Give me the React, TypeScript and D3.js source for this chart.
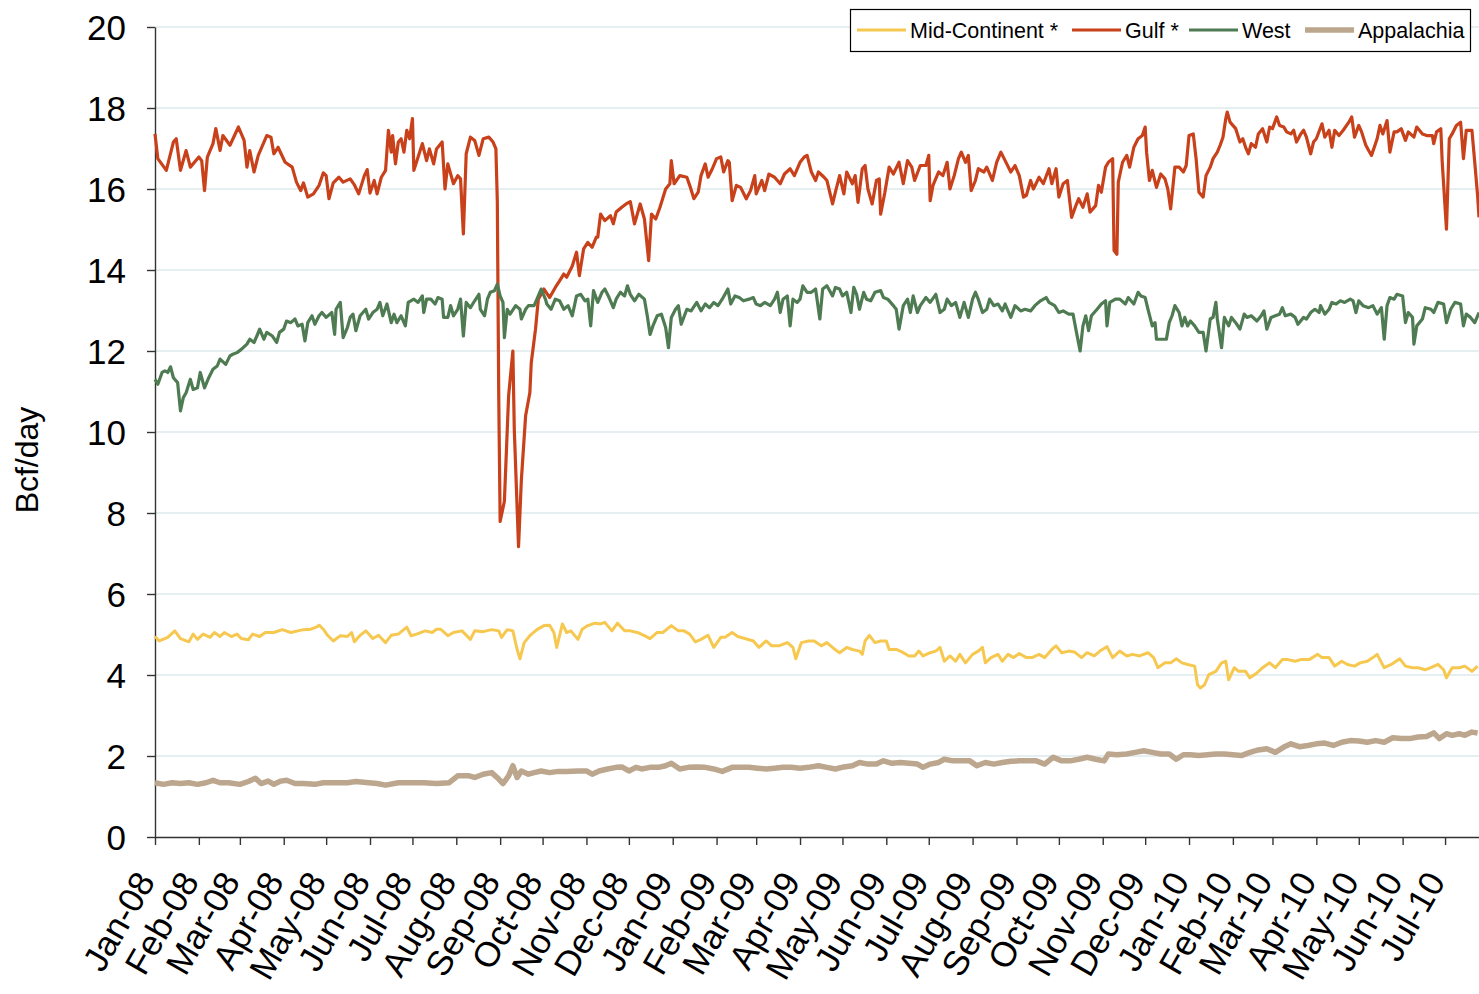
import React, { useRef, useEffect } from 'react';
import * as d3 from 'd3';

// [day offset from Jan 1 2008, Bcf/day]
const gulf: [number, number][] = [
  [0,17.36],[2,16.75],[8,16.46],[13,17.16],[15,17.24],[18,16.46],[22,16.95],[25,16.54],[31,16.79],[33,16.7],[35,15.96],[37,16.79],[41,17.12],[43,17.49],[46,16.95],[48,17.32],[53,17.08],[59,17.53],[63,17.2],[65,16.54],[67,16.95],[70,16.42],[73,16.83],[79,17.32],[82,17.28],[84,16.87],[87,17.03],[92,16.66],[97,16.54],[100,16.17],[103,15.96],[105,16.15],[108,15.8],[112,15.88],[116,16.09],[119,16.4],[121,16.33],[123,15.76],[126,16.15],[130,16.29],[133,16.17],[138,16.25],[141,16.1],[144,15.88],[148,16.33],[150,16.48],[152,15.9],[155,16.21],[157,15.88],[160,16.29],[163,16.46],[165,17.45],[167,16.91],[168,17.32],[170,16.62],[172,17.16],[174,17.24],[176,16.91],[178,17.45],[180,17.24],[182,17.74],[183,16.46],[186,16.79],[189,17.12],[192,16.7],[194,16.99],[197,16.62],[199,16.99],[203,17.16],[205,16.0],[207,16.62],[211,16.13],[214,16.33],[216,16.25],[218,14.89],[220,16.87],[223,17.28],[226,17.2],[229,16.83],
  [232,17.24],[236,17.28],[239,17.16],[241,16.99],[242,15.7],[243,10.9],[244,7.79],[247,8.29],[250,10.9],[253,12.0],[254,10.06],[257,7.17],[259,8.82],[262,10.4],[265,10.97],[266,11.71],[269,12.54],[271,13.28],[275,13.53],[279,13.32],[283,13.57],[286,13.73],[289,13.9],[291,13.82],[295,14.1],[298,14.44],[300,13.86],[303,14.52],[306,14.68],[309,14.56],[312,14.81],[313,14.81],[315,15.38],[318,15.22],[322,15.34],[324,15.14],[326,15.43],[330,15.55],[333,15.63],[336,15.69],[339,15.14],[343,15.63],[346,15.26],[349,14.23],[351,15.38],[354,15.26],[357,15.55],[361,16.0],[364,16.13],[365,16.7],[367,16.13],[371,16.33],[376,16.29],[378,16.09],[381,15.76],[384,15.92],[386,16.33],[389,16.62],[391,16.29],[394,16.5],[397,16.75],[400,16.79],[402,16.42],[405,16.7],[406,16.66],[408,15.71],[411,16.09],[414,16.04],[418,15.76],[421,15.96],[424,16.33],[425,15.88],[429,16.21],[431,15.96],[434,16.37],[438,16.29],[442,16.13],[445,16.37],[449,16.5],[452,16.33],[456,16.66],
  [459,16.79],[461,16.83],[464,16.42],[467,16.21],[469,16.42],[473,16.29],[475,16.21],[479,15.63],[481,15.92],[484,16.33],[487,15.88],[489,16.42],[493,16.13],[495,16.33],[497,15.67],[500,16.5],[502,16.58],[504,16.0],[507,15.63],[510,16.21],[512,16.25],[513,15.38],[516,15.92],[519,16.54],[522,16.37],[526,16.66],[529,16.13],[532,16.7],[535,16.54],[537,16.21],[541,16.58],[545,16.58],[547,16.83],[548,15.71],[550,16.09],[554,16.42],[557,16.33],[560,16.66],[562,16.0],[565,16.33],[568,16.75],[570,16.91],[573,16.66],[575,16.83],[577,15.96],[580,16.21],[582,16.5],[586,16.42],[588,16.54],[592,16.21],[595,16.66],[598,16.91],[601,16.7],[605,16.42],[608,16.58],[611,16.33],[614,15.8],[616,15.84],[619,16.21],[621,16.0],[625,16.29],[628,16.13],[632,16.5],[634,16.13],[637,16.5],[639,15.8],[642,16.13],[645,16.21],[648,15.3],[651,15.59],[653,15.76],[656,15.55],[659,15.88],[661,15.43],[665,15.59],[667,16.09],[669,15.92],[672,16.54],[674,16.66],[677,16.75],[678,14.48],[680,14.39],[681,16.17],[684,16.66],[687,16.83],[689,16.54],
  [692,17.03],[695,17.24],[698,17.32],[700,17.53],[701,16.91],[703,16.21],[705,16.46],[708,16.04],[711,16.37],[714,16.25],[716,16.0],[718,15.51],[721,16.54],[724,16.54],[727,16.42],[729,16.58],[731,17.32],[734,17.36],[736,16.75],[738,15.92],[741,15.8],[743,16.33],[746,16.54],[748,16.75],[751,16.91],[753,17.08],[755,17.28],[757,17.74],[758,17.9],[760,17.65],[762,17.57],[764,17.49],[767,17.16],[769,17.24],[771,17.03],[773,16.87],[775,17.12],[778,17.03],[780,17.36],[783,17.49],[786,17.16],[788,17.53],[790,17.49],[793,17.78],[795,17.57],[798,17.53],[800,17.41],[803,17.36],[805,17.45],[807,17.16],[810,17.36],[812,17.45],[814,17.28],[817,16.87],[819,17.16],[821,17.24],[825,17.61],[827,17.28],[830,17.45],[832,17.03],[834,17.45],[837,17.32],[840,17.45],[844,17.65],[846,17.78],[848,17.28],[851,17.57],[853,17.41],[856,17.08],[858,16.95],[860,16.83],[864,17.24],[866,17.57],[868,17.36],[871,17.69],[873,16.91],[876,17.41],[878,17.41],[881,17.49],[884,17.2],[886,17.41],[890,17.28],[892,17.53],[896,17.36],[899,17.32],[903,17.32],[904,17.12],[906,17.41],[909,17.49],[910,16.66],[913,15.01],[915,17.24],[917,17.36],[920,17.57],[923,17.65],[925,16.75],[927,17.45],[931,17.45],[933,16.66],[935,15.84],[936,15.3]
];

const west: [number, number][] = [
  [0,11.3],[2,11.18],[5,11.47],[7,11.51],[9,11.47],[11,11.61],[13,11.34],[16,11.22],[18,10.52],[20,10.85],[22,10.97],[25,11.3],[27,11.05],[30,11.09],[32,11.47],[35,11.09],[38,11.34],[41,11.55],[44,11.63],[46,11.8],[50,11.67],[53,11.88],[55,11.92],[58,11.96],[61,12.04],[65,12.17],[67,12.29],[70,12.21],[72,12.37],[74,12.54],[77,12.29],[79,12.46],[83,12.37],[86,12.21],[88,12.46],[91,12.54],[93,12.74],[96,12.7],[99,12.79],[101,12.62],[104,12.66],[106,12.25],[108,12.7],[111,12.87],[113,12.66],[116,12.87],[118,12.95],[121,12.83],[125,12.95],[127,12.41],[128,13.03],[131,13.2],[133,12.33],[136,12.58],[138,12.83],[140,12.91],[142,12.5],[145,12.87],[149,13.03],[151,12.79],[154,12.95],[157,13.03],[159,13.2],[161,12.87],[164,13.16],[167,12.7],[169,12.91],[171,12.7],[174,12.87],[177,12.62],[179,13.2],[183,13.28],[186,13.2],[189,13.36],[190,12.95],[192,13.28],[195,13.28],[198,13.16],[200,13.32],[203,13.28],[204,12.83],[207,12.83],[209,13.12],[211,12.87],[214,13.03],[216,13.28],[218,12.37],[220,13.2],[223,13.07],[226,13.24],[229,13.4],
  [230,13.03],[233,12.87],[235,13.28],[237,13.45],[240,13.49],[242,13.65],[244,13.36],[246,13.2],[247,12.33],[249,13.03],[251,12.91],[255,13.12],[258,13.03],[259,12.79],[262,13.03],[264,13.12],[268,13.12],[270,13.28],[273,13.53],[276,13.28],[277,13.16],[280,13.03],[283,13.28],[286,13.24],[289,13.03],[292,13.12],[295,12.87],[298,13.36],[301,13.4],[304,13.24],[306,13.28],[308,12.62],[310,13.49],[313,13.2],[316,13.45],[318,13.53],[321,13.32],[324,13.07],[326,13.28],[329,13.45],[332,13.36],[334,13.61],[336,13.4],[339,13.24],[342,13.4],[346,13.28],[348,12.87],[350,12.41],[352,12.62],[355,12.87],[358,12.91],[361,12.58],[363,12.08],[365,12.83],[368,13.03],[370,13.12],[372,12.66],[376,13.03],[379,12.99],[383,13.2],[386,12.99],[389,13.16],[392,13.07],[395,13.2],[398,13.12],[401,13.28],[405,13.53],[407,13.16],[410,13.36],[413,13.32],[416,13.24],[420,13.28],[423,13.32],[425,13.16],[428,13.12],[431,13.2],[435,13.12],[438,13.28],[440,13.45],[442,12.95],[444,13.28],[447,13.36],[449,12.62],[451,13.28],[454,13.2],[456,13.28],[458,13.61],[461,13.45],
  [464,13.45],[467,13.53],[470,12.79],[472,13.53],[475,13.61],[479,13.36],[481,13.57],[484,13.53],[486,13.36],[489,13.45],[492,12.95],[494,13.57],[496,13.4],[498,13.03],[501,13.45],[503,13.28],[506,13.24],[509,13.45],[513,13.49],[515,13.32],[518,13.28],[522,13.12],[524,13.03],[526,12.54],[529,13.12],[532,13.28],[534,12.95],[536,13.36],[539,12.95],[541,13.12],[545,13.32],[548,13.2],[552,13.4],[555,12.95],[558,13.03],[560,13.28],[563,13.12],[566,13.2],[569,12.83],[572,13.2],[575,12.83],[578,13.28],[580,13.45],[582,13.28],[585,12.95],[588,13.03],[590,13.28],[593,13.12],[596,13.16],[599,12.99],[601,13.16],[605,12.83],[608,13.12],[612,12.99],[615,13.03],[619,12.99],[622,13.12],[626,13.24],[630,13.32],[632,13.2],[636,13.12],[639,12.95],[642,12.99],[646,12.91],[649,12.91],[651,12.54],[654,12.0],[656,12.62],[658,12.87],[660,12.5],[662,12.87],[666,13.03],[669,13.16],[672,13.24],[673,12.62],[675,13.2],[679,13.28],[682,13.28],[686,13.16],[688,13.32],
  [692,13.16],[695,13.45],[697,13.36],[700,13.32],[702,13.03],[705,12.62],[707,12.7],[708,12.29],[712,12.29],[715,12.29],[717,12.7],[719,12.87],[721,13.12],[724,12.95],[726,12.62],[728,12.83],[730,12.62],[732,12.74],[735,12.62],[738,12.46],[741,12.46],[743,12.0],[746,12.79],[748,12.83],[750,13.2],[751,12.79],[754,12.08],[756,12.83],[759,12.62],[761,12.83],[764,12.7],[767,12.54],[770,12.91],[772,12.83],[775,12.87],[779,12.74],[782,12.87],[784,12.99],[786,12.54],[789,12.83],[792,12.87],[795,12.91],[797,13.07],[799,12.87],[803,12.91],[806,12.83],[808,12.66],[812,12.83],[814,12.79],[817,12.95],[820,13.03],[823,12.95],[824,13.12],[827,12.91],[830,13.03],[832,13.2],[835,13.16],[838,13.24],[841,13.2],[845,13.28],[847,13.24],[849,12.95],[851,13.24],[854,13.12],[858,13.07],[861,13.12],[864,12.91],[867,13.07],[869,12.29],[871,13.12],[873,13.32],[876,13.28],[878,13.4],[882,13.36],[884,12.7],[886,12.95],[889,12.83],[890,12.17],[892,12.62],[896,12.79],[898,13.07],[902,13.03],[904,12.95],[907,13.2],[911,13.16],[913,12.7],[916,13.03],[919,13.2],[923,13.16],[925,12.62],[927,12.91],[930,12.83],[933,12.7],[936,12.95]
];

const midContinent: [number, number][] = [
  [0,4.95],[3,4.84],[9,4.93],[14,5.09],[18,4.9],[24,4.82],[27,5.01],[30,4.88],[34,5.01],[39,4.93],[42,5.05],[46,4.95],[49,5.05],[54,4.95],[58,5.01],[61,4.9],[66,4.87],[69,5.01],[74,4.95],[78,5.05],[84,5.05],[90,5.12],[96,5.05],[101,5.09],[105,5.12],[110,5.13],[114,5.18],[116,5.23],[119,5.13],[122,4.98],[126,4.84],[131,4.97],[136,4.95],[139,5.05],[141,4.82],[145,4.98],[149,5.09],[154,4.9],[158,4.98],[163,4.8],[167,4.98],[172,5.01],[178,5.18],[181,4.97],[185,5.01],[191,5.09],[196,5.05],[199,5.13],[202,5.13],[207,4.97],[211,5.05],[217,5.09],[223,4.88],[226,5.09],[232,5.07],[238,5.12],[243,5.09],[245,4.93],[249,5.12],[253,5.09],[256,4.63],[258,4.4],[261,4.8],[265,4.97],[270,5.12],[275,5.22],[279,5.23],[282,5.05],[284,4.68],[288,5.26],[291,5.05],[294,5.09],[299,4.88],[302,5.13],[306,5.22],[311,5.28],[315,5.26],[318,5.3],[323,5.09],[327,5.28],[332,5.09],[336,5.09],[341,5.05],[346,4.97],[350,4.9],[355,5.05],[359,5.05],[365,5.22],[370,5.09],[374,5.09],[378,5.01],[382,4.82],[386,4.88],[391,4.98],[395,4.68],[400,4.93],[403,4.93],[408,5.05],[412,4.95],[417,4.9],[423,4.84],[427,4.68],[432,4.84],[436,4.72],[441,4.72],[447,4.8],[451,4.68],[453,4.4],[457,4.8],[462,4.84],
  [466,4.84],[471,4.72],[475,4.8],[480,4.65],[484,4.55],[489,4.68],[493,4.63],[498,4.59],[500,4.51],[502,4.84],[505,4.98],[509,4.8],[513,4.84],[517,4.84],[519,4.63],[524,4.63],[528,4.57],[533,4.47],[537,4.47],[540,4.59],[543,4.47],[548,4.55],[552,4.59],[555,4.68],[558,4.34],[562,4.47],[566,4.34],[569,4.51],[573,4.3],[578,4.51],[582,4.59],[585,4.68],[587,4.3],[591,4.43],[596,4.51],[599,4.34],[603,4.51],[607,4.43],[611,4.53],[616,4.43],[620,4.43],[625,4.51],[629,4.43],[634,4.63],[637,4.72],[641,4.55],[646,4.59],[650,4.57],[655,4.43],[659,4.55],[664,4.47],[668,4.59],[673,4.7],[677,4.43],[682,4.59],[687,4.47],[691,4.51],[696,4.47],[702,4.55],[706,4.43],[709,4.18],[714,4.3],[718,4.3],[722,4.4],[726,4.3],[730,4.26],[735,4.22],[737,3.76],[739,3.68],[742,3.76],[745,4.01],[750,4.09],[754,4.3],[757,4.34],[759,3.88],[763,4.18],[766,4.09],[771,4.09],[774,3.93],[779,4.05],[783,4.18],[788,4.3],[792,4.18],[797,4.38],[801,4.38],[806,4.34],[810,4.38],[816,4.38],[822,4.51],[825,4.43],[830,4.43],[834,4.22],[839,4.34],[843,4.26],[848,4.22],[852,4.3],[857,4.34],[861,4.43],[864,4.51],[869,4.18],[874,4.26],[880,4.4],[884,4.22],[889,4.18],[893,4.18],[898,4.13],[902,4.18],[907,4.26],[911,4.13],[913,3.93],[917,4.18],[922,4.18],[926,4.22],[931,4.09],[935,4.22]
];

const appalachia: [number, number][] = [
  [0,1.34],[6,1.3],[12,1.34],[18,1.32],[24,1.34],[30,1.3],[36,1.34],[41,1.4],[46,1.34],[52,1.34],[60,1.3],[66,1.37],[71,1.45],[75,1.32],[80,1.38],[84,1.3],[89,1.38],[93,1.4],[99,1.32],[105,1.32],[113,1.3],[119,1.34],[126,1.34],[136,1.34],[142,1.37],[151,1.34],[157,1.32],[163,1.28],[172,1.34],[181,1.34],[190,1.34],[199,1.32],[208,1.34],[214,1.51],[222,1.51],[226,1.47],[232,1.55],[238,1.59],[243,1.43],[246,1.32],[250,1.51],[253,1.76],[256,1.47],[259,1.63],[264,1.55],[268,1.59],[273,1.63],[279,1.59],[285,1.62],[291,1.62],[299,1.63],[305,1.63],[309,1.55],[314,1.63],[320,1.68],[326,1.72],[330,1.73],[335,1.63],[340,1.72],[344,1.68],[350,1.72],[356,1.72],[361,1.76],[365,1.82],[371,1.68],[377,1.72],[383,1.73],[389,1.72],[395,1.68],[401,1.62],[408,1.72],[414,1.72],[420,1.72],[426,1.7],[432,1.68],[438,1.7],[444,1.72],[450,1.72],[456,1.7],[462,1.72],[469,1.76],[475,1.72],[481,1.68],[487,1.73],[493,1.76],[498,1.84],[504,1.8],[510,1.8],[515,1.88],[521,1.82],[527,1.84],[533,1.82],[539,1.8],[543,1.72],[548,1.8],[554,1.84],[558,1.92],[564,1.88],[570,1.88],[576,1.88],[581,1.76],[587,1.84],[593,1.8],[599,1.84],[605,1.87],[611,1.88],[617,1.88],[623,1.88],[629,1.8],[635,1.97],[641,1.88],[647,1.88],[653,1.92],[659,1.97],[665,1.92],[671,1.88],[674,2.05],[680,2.03],[687,2.05],[693,2.09],[699,2.13],[705,2.09],[711,2.05],[717,2.05],[722,1.92],[727,2.03],[732,2.03],[738,2.01],[744,2.03],[750,2.05],[756,2.05],[762,2.03],[768,2.01],[774,2.09],[780,2.15],[786,2.18],[792,2.09],[798,2.22],[803,2.3],[809,2.23],[815,2.26],[821,2.3],[827,2.32],[833,2.26],[839,2.34],[845,2.38],[851,2.37],[857,2.34],[863,2.38],[869,2.34],[875,2.45],[881,2.43],[887,2.43],[893,2.47],[899,2.48],[904,2.57],[908,2.43],[913,2.55],[917,2.51],[922,2.55],[926,2.51],[931,2.59],[935,2.57]
];

const yTicks = [0, 2, 4, 6, 8, 10, 12, 14, 16, 18, 20];

const seriesList = [
  { name: 'Mid-Continent *', data: midContinent, color: '#F6C850', width: 3 },
  { name: 'Gulf *', data: gulf, color: '#C8411A', width: 3.2 },
  { name: 'West', data: west, color: '#4E7B52', width: 3.2 },
  { name: 'Appalachia', data: appalachia, color: '#BCA68D', width: 5.5 }
];

const FONT = '"Liberation Sans", Arial, sans-serif';

const App: React.FC = () => {
  const svgRef = useRef<SVGSVGElement | null>(null);

  useEffect(() => {
    const svg = d3.select(svgRef.current);
    svg.selectAll('*').remove();

    const start = new Date(2008, 0, 1);
    const end = new Date(2010, 6, 25);
    const margin = { top: 27, left: 155 };
    const plotRight = 1479;
    const plotBottom = 837;

    const x = d3.scaleTime().domain([start, end]).range([margin.left, plotRight]);
    const y = d3.scaleLinear().domain([0, 20]).range([plotBottom, margin.top]);

    const monthTicks = d3.timeMonth.range(start, new Date(2010, 7, 1));

    // grid lines
    svg.append('g')
      .selectAll('line')
      .data(yTicks.filter(d => d > 0))
      .enter()
      .append('line')
      .attr('x1', margin.left)
      .attr('x2', plotRight)
      .attr('y1', d => y(d))
      .attr('y2', d => y(d))
      .attr('stroke', '#dde8ec')
      .attr('stroke-width', 1.5);

    // y axis
    const yAxis = svg.append('g')
      .attr('transform', `translate(${margin.left},0)`)
      .call(d3.axisLeft(y).tickValues(yTicks).tickSize(8).tickSizeOuter(0));
    yAxis.select('.domain').attr('stroke', '#333').attr('stroke-width', 1.4);
    yAxis.selectAll('.tick line').attr('stroke', '#333').attr('stroke-width', 1.4);
    yAxis.selectAll('.tick text')
      .attr('x', -29)
      .attr('dy', '0.36em')
      .style('font-family', FONT)
      .style('font-size', '35px')
      .style('fill', '#000');

    // x axis
    const xAxis = svg.append('g')
      .attr('transform', `translate(0,${plotBottom})`)
      .call(d3.axisBottom(x)
        .tickValues(monthTicks)
        .tickSize(8)
        .tickSizeOuter(0)
        .tickFormat(d => d3.timeFormat('%b-%y')(d as Date)));
    xAxis.select('.domain').attr('stroke', '#333').attr('stroke-width', 1.4);
    xAxis.selectAll('.tick line').attr('stroke', '#333').attr('stroke-width', 1.4);
    xAxis.selectAll('.tick text')
      .attr('x', 0)
      .attr('y', 0)
      .attr('dy', '0.35em')
      .attr('transform', 'translate(-10,38) rotate(-60)')
      .style('text-anchor', 'end')
      .style('font-family', FONT)
      .style('font-size', '35px')
      .style('fill', '#000');

    // y axis title
    svg.append('text')
      .attr('transform', `translate(38,${(margin.top + plotBottom) / 2 + 28}) rotate(-90)`)
      .style('text-anchor', 'middle')
      .style('font-family', FONT)
      .style('font-size', '32px')
      .text('Bcf/day');

    // series lines
    const line = d3.line<[number, number]>()
      .x(d => x(d3.timeDay.offset(start, d[0])))
      .y(d => y(d[1]));

    seriesList.forEach(s => {
      svg.append('path')
        .datum(s.data)
        .attr('fill', 'none')
        .attr('stroke', s.color)
        .attr('stroke-width', s.width)
        .attr('stroke-linejoin', 'round')
        .attr('d', line);
    });

    // legend
    const legend = svg.append('g');
    legend.append('rect')
      .attr('x', 850.5)
      .attr('y', 9.5)
      .attr('width', 620)
      .attr('height', 42)
      .attr('fill', '#fff')
      .attr('stroke', '#000')
      .attr('stroke-width', 1.2);

    const legendX = [857, 1072, 1189, 1305];
    seriesList.forEach((s, i) => {
      legend.append('line')
        .attr('x1', legendX[i])
        .attr('x2', legendX[i] + 49)
        .attr('y1', 30)
        .attr('y2', 30)
        .attr('stroke', s.color)
        .attr('stroke-width', s.width);
      legend.append('text')
        .attr('x', legendX[i] + 53)
        .attr('y', 30)
        .attr('dy', '0.35em')
        .style('font-family', FONT)
        .style('font-size', '21.5px')
        .text(s.name);
    });
  }, []);

  return (
    <svg
      ref={svgRef}
      width={1479}
      height={994}
      style={{ position: 'absolute', left: 0, top: 0, background: '#fff' }}
    />
  );
};

export default App;
